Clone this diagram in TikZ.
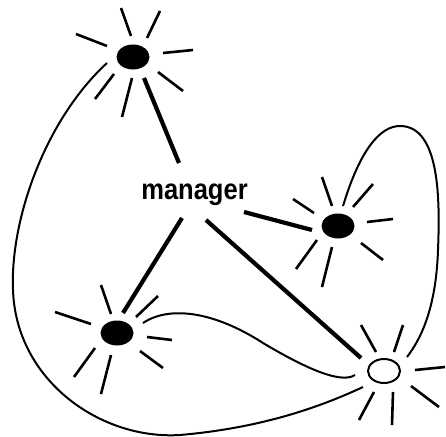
\documentclass[tikz,border=0pt]{standalone}
\usepackage{fontspec}
\setmainfont{Liberation Sans}
\newfontfamily\labelfont[FakeStretch=0.88]{Liberation Sans Bold}
\begin{document}
\begin{tikzpicture}[x=1pt,y=-1pt,
  agent/.style={ellipse,minimum width=33pt,minimum height=25pt,inner sep=0pt,fill=black},
  idle/.style={ellipse,minimum width=32pt,minimum height=24pt,inner sep=0pt,draw=black,line width=2pt,fill=white},
  ray/.style={line width=2.6pt},
  link/.style={line width=4.2pt},
  loop/.style={line width=2pt},
  lbl/.style={font=\labelfont\fontsize{29}{29}\selectfont,inner sep=0pt}]
\usetikzlibrary{shapes.geometric}
\useasboundingbox (0,0) rectangle (446,436);
\fill[white] (0,0) rectangle (446,436);

\node[agent] (top) at (133,57) {};
\node[agent] (right) at (338,226) {};
\node[agent] (left) at (117,333) {};
\node[idle] (white) at (384,371) {};
\node[lbl,anchor=base] (manager) at (194.5,199) {manager};

% rays of top
\begin{scope}[shift={(top.center)},ray]
\draw (-2,-21) -- (-12,-49);
\draw (14,-19) -- (27,-46);
\draw (-26,-11) -- (-57,-23);
\draw (30,-4) -- (60,-7);
\draw (25,15) -- (50,34);
\draw (-19,17) -- (-38,42);
\draw (-1,21) -- (-11,60);
\end{scope}
% rays of right
\begin{scope}[shift={(right.center)},ray]
\draw (-6,-20) -- (-16,-49);
\draw (15,-19) -- (35,-42);
\draw (-24,-13) -- (-45,-27);
\draw (29,-4) -- (55,-7);
\draw (23,17) -- (45,34);
\draw (-21,14) -- (-42,43);
\draw (-6,21) -- (-16,61);
\end{scope}
% rays of left
\begin{scope}[shift={(left.center)},ray]
\draw (-6,-19) -- (-16,-48);
\draw (19,-16) -- (41,-37);
\draw (-26,-9) -- (-62,-21);
\draw (30,4) -- (55,7);
\draw (23,18) -- (46,35);
\draw (-22,15) -- (-43,44);
\draw (-6,22) -- (-16,61);
\end{scope}
% rays of white
\begin{scope}[shift={(white.center)},ray]
\draw (-8,-19) -- (-23,-46);
\draw (10,-19) -- (19,-46);
\draw (31,-1) -- (61,-4);
\draw (27,15) -- (55,36);
\draw (9,21) -- (8,54);
\draw (-10,21) -- (-25,49);
\end{scope}

% links from manager
\draw[link] ([shift={(-15.5,-36)}]manager.base) -- ([shift={(11,21)}]top.center);
\draw[link] ([shift={(-12.5,19)}]manager.base) -- ([shift={(6,-20)}]left.center);
\draw[link] ([shift={(11.5,21)}]manager.base) -- ([shift={(-23,-13)}]white.center);
\draw[link] ([shift={(49.5,13)}]manager.base) -- ([shift={(-26,4)}]right.center);

% loops
\draw[loop] ([shift={(-26,6)}]top.center) .. controls (45,120) and (10,220) .. (13,290)
  .. controls (16,380) and (100,440) .. (180,435)
  .. controls (260,428) and (318,408) .. ([shift={(-21,16)}]white.center);
\draw[loop] ([shift={(26,-10)}]left.center) .. controls (170,305) and (215,312) .. (263,343)
  .. controls (300,365) and (340,385) .. ([shift={(-29,4)}]white.center);
\draw[loop] ([shift={(5,-20)}]right.center) .. controls (360,150) and (380,126) .. (400,126)
  .. controls (440,126) and (440,200) .. (438,250)
  .. controls (436,310) and (420,340) .. ([shift={(23,-14)}]white.center);
\end{tikzpicture}
\end{document}
